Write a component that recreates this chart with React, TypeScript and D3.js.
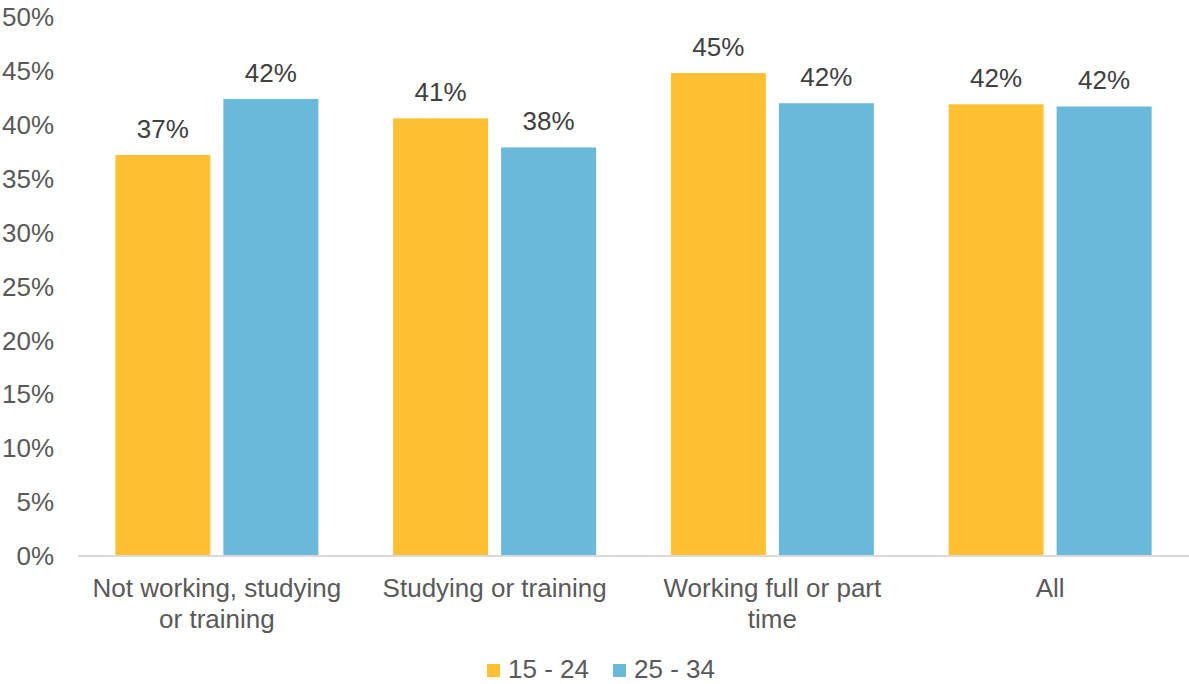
import React from "react";
import * as d3 from "d3";

const categories: string[][] = [
  ["Not working, studying", "or training"],
  ["Studying or training"],
  ["Working full or part", "time"],
  ["All"],
];
const series = ["15 - 24", "25 - 34"];
const values15to24 = [37.2, 40.6, 44.8, 41.9];
const values25to34 = [42.4, 37.9, 42.0, 41.7];
const labels15to24 = ["37%", "41%", "45%", "42%"];
const labels25to34 = ["42%", "38%", "42%", "42%"];
const yTicks = [0, 5, 10, 15, 20, 25, 30, 35, 40, 45, 50];

const colors = ["#FFC133", "#6AB8DA"];
const W = 1189;
const H = 684;
const margin = { left: 78, right: 0, top: 17, bottom: 128 };
const font = "'Liberation Sans', Arial, sans-serif";
const fs = 26;

export default function App() {
  const x = d3
    .scaleBand<number>()
    .domain(d3.range(categories.length))
    .range([margin.left, W - margin.right])
    .paddingInner(0)
    .paddingOuter(0);
  const y = d3.scaleLinear().domain([0, 50]).range([H - margin.bottom, margin.top]);
  const step = x.bandwidth();
  const barW = 95;
  const gap = 13;
  const groupW = barW * 2 + gap;
  const all = [values15to24, values25to34];
  const labs = [labels15to24, labels25to34];
  const y0 = y(0);

  return (
    <svg
      width={W}
      height={H}
      style={{ position: "absolute", left: 0, top: 0, background: "#fff" }}
      fontFamily={font}
    >
      {yTicks.map((t) => (
        <text
          key={t}
          x={54}
          y={y(t)}
          dy="0.35em"
          textAnchor="end"
          fontSize={fs}
          fill="#595959"
        >
          {t}%
        </text>
      ))}
      {categories.map((_, i) => {
        const gx = (x(i) as number) + (step - groupW) / 2;
        return all.map((vals, s) => {
          const bx = gx + s * (barW + gap);
          const top = y(vals[i]);
          return (
            <g key={`${i}-${s}`}>
              <rect x={bx} y={top} width={barW} height={y0 - top} fill={colors[s]} />
              <text
                x={bx + barW / 2}
                y={top - 17}
                textAnchor="middle"
                fontSize={fs}
                fill="#404040"
              >
                {labs[s][i]}
              </text>
            </g>
          );
        });
      })}
      <line x1={margin.left} x2={W} y1={y0} y2={y0} stroke="#D9D9D9" strokeWidth={2} />
      {categories.map((lines, i) => (
        <text
          key={i}
          x={(x(i) as number) + step / 2}
          textAnchor="middle"
          fontSize={fs}
          fill="#595959"
        >
          {lines.map((l, k) => (
            <tspan key={k} x={(x(i) as number) + step / 2} y={597 + k * 31}>
              {l}
            </tspan>
          ))}
        </text>
      ))}
      {series.map((s, k) => {
        const lx = 487 + k * 126;
        return (
          <g key={s}>
            <rect x={lx} y={664} width={13} height={13} fill={colors[k]} />
            <text x={lx + 21} y={678} fontSize={fs} fill="#595959">
              {s}
            </text>
          </g>
        );
      })}
    </svg>
  );
}
